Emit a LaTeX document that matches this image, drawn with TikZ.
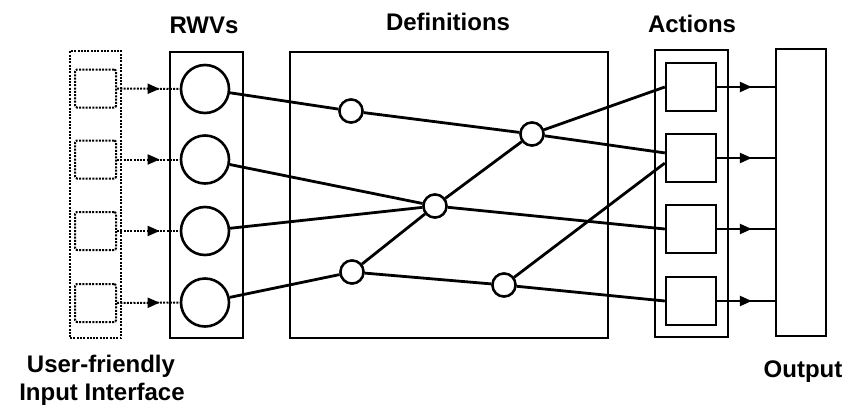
\documentclass[tikz,border=0pt]{standalone}
\usepackage{fontspec}
\setmainfont{Liberation Sans}
\usetikzlibrary{arrows.meta,decorations.markings}
\begin{document}
\begin{tikzpicture}[x=1pt,y=-1pt,
  bigbox/.style={draw, line width=2.3pt, inner sep=0pt, minimum width=#1, minimum height=286pt},
  dotbox/.style={draw, line width=2pt, dash pattern=on 2pt off 1.3pt, inner sep=0pt},
  insq/.style={dotbox, rounded corners=2pt, minimum width=41pt, minimum height=38pt},
  rwv/.style={draw, circle, line width=2.6pt, inner sep=0pt, minimum size=48pt, fill=white},
  defn/.style={draw, circle, line width=2.4pt, inner sep=0pt, minimum size=23pt, fill=white},
  actsq/.style={draw, line width=2.4pt, inner sep=0pt, minimum width=50pt, minimum height=48pt},
  link/.style={line width=2.8pt},
  dotarrow/.style={line width=2pt, dash pattern=on 2pt off 1.3pt, postaction={decorate},
    decoration={markings, mark=at position 0.68 with {\arrow{Triangle[length=12pt,width=10pt]}}}},
  solarrow/.style={line width=2.4pt, postaction={decorate},
    decoration={markings, mark=at position 0.6 with {\arrow{Triangle[length=12pt,width=10pt]}}}},
  lbl/.style={font=\bfseries\fontsize{24}{29}\selectfont, anchor=base, inner sep=0pt}
]
\useasboundingbox (0,0) rectangle (847,405);

% input interface
\node[dotbox, minimum width=51pt, minimum height=287pt] (inbox) at (95.5,194.5) {};
\node[insq] (in1) at (95.5,88.5) {};
\node[insq] (in2) at (95.5,159.5) {};
\node[insq] (in3) at (95.5,231) {};
\node[insq] (in4) at (95.5,303) {};

% RWVs
\node[bigbox=73pt] (rwvbox) at (206.5,195) {};
\node[rwv] (r1) at (205,89) {};
\node[rwv] (r2) at (205,159.5) {};
\node[rwv] (r3) at (205,231) {};
\node[rwv] (r4) at (205,302.5) {};

% Definitions
\node[bigbox=318pt] (defbox) at (449,195) {};
\node[defn] (A) at (351,111) {};
\node[defn] (B) at (532,134) {};
\node[defn] (C) at (435,206) {};
\node[defn] (D) at (352,272) {};
\node[defn] (E) at (504,285) {};

% Actions
\node[bigbox=73pt, minimum height=287pt] (actbox) at (691.5,193.5) {};
\node[actsq] (a1) at (691,87) {};
\node[actsq] (a2) at (691,158) {};
\node[actsq] (a3) at (691,229) {};
\node[actsq] (a4) at (691,301) {};

% Output
\node[bigbox=50pt, minimum height=287pt] (outbox) at (801,192.5) {};

% labels
\node[lbl] (lrwv) at (204,33) {RWVs};
\node[lbl] (ldef) at (448,30) {Definitions};
\node[lbl] (lact) at (692,32) {Actions};
\node[lbl] (lin1) at (101,372) {User-friendly};
\node[lbl] (lin2) at (102,400) {Input Interface};
\node[lbl] (lout) at (803,377) {Output};

% input arrows
\foreach \i in {1,...,4}{
  \draw[dotarrow] (in\i.east) -- (r\i.west);
}

% links
\draw[link] (r1) -- (A);
\draw[link] (A) -- (B);
\draw[link] (B) -- (a2.169);
\draw[link] (B) -- (a1.west);
\draw[link] (r2) -- (C);
\draw[link] (r3) -- (C);
\draw[link] (C) -- (a3.west);
\draw[link] (C) -- (B);
\draw[link] (r4) -- (D);
\draw[link] (D) -- (C);
\draw[link] (D) -- (E);
\draw[link] (E) -- (a4.west);
\draw[link] (E) -- (a2.191);

% redraw nodes above links
\foreach \n in {A,B,C,D,E}{ \node[defn] at (\n) {}; }

% output arrows
\foreach \i in {1,...,4}{
  \draw[solarrow] (a\i.east) -- (a\i.east -| outbox.west);
}
\end{tikzpicture}
\end{document}
